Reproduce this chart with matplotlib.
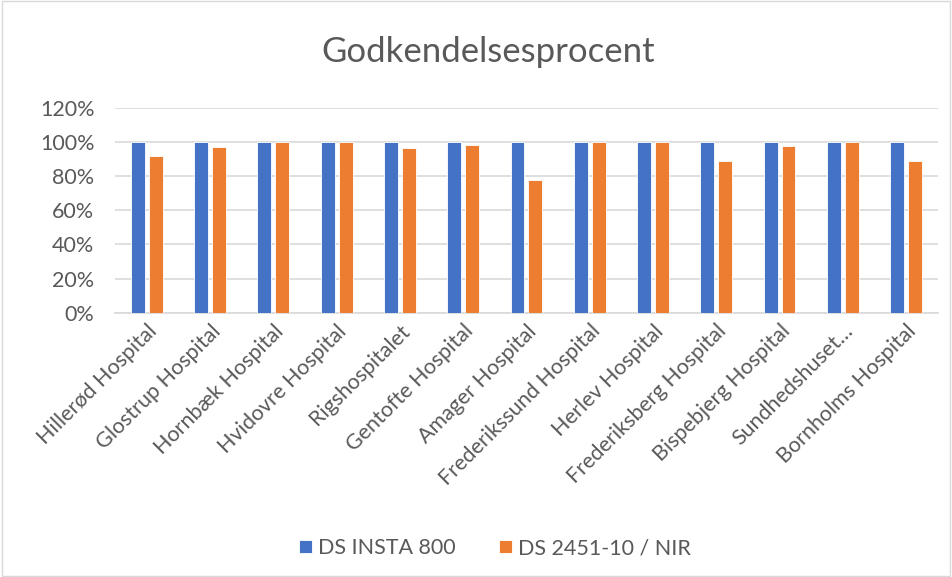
import numpy as np
import matplotlib.pyplot as plt
from matplotlib.ticker import PercentFormatter

hospitals = ['Hillerød Hospital', 'Glostrup Hospital', 'Hornbæk Hospital', 'Hvidovre Hospital',
             'Rigshospitalet', 'Gentofte Hospital', 'Amager Hospital', 'Frederikssund Hospital',
             'Herlev Hospital', 'Frederiksberg Hospital', 'Bispebjerg Hospital',
             'Sundhedshuset…', 'Bornholms Hospital']
insta800 = [100, 100, 100, 100, 100, 100, 100, 100, 100, 100, 100, 100, 100]
ds2451 = [92, 97.1, 100, 100, 96.7, 98.2, 77.5, 100, 100, 88.7, 97.7, 100, 88.7]

plt.rcParams['font.family'] = ['Lato', 'DejaVu Sans']

fig = plt.figure(figsize=(9.52, 5.77), dpi=100)
ax = fig.add_axes([0.121, 0.458, 0.864, 0.355])

x = np.arange(len(hospitals))
w = 0.22
ax.bar(x - 0.142, insta800, w, color='#4472C4', edgecolor='white', linewidth=0.6, label='DS INSTA 800', zorder=3)
ax.bar(x + 0.142, ds2451, w, color='#ED7D31', edgecolor='white', linewidth=0.6, label='DS 2451-10 / NIR', zorder=3)

ax.set_xlim(-0.5, len(hospitals) - 0.5)
ax.set_ylim(0, 120)
ax.set_yticks(range(0, 121, 20))
ax.yaxis.set_major_formatter(PercentFormatter(decimals=0))
ax.grid(axis='y', color='#D9D9D9', linewidth=1.2, zorder=0)
for s in ['top', 'right', 'left']:
    ax.spines[s].set_visible(False)
ax.spines['bottom'].set_color('#D9D9D9')
ax.spines['bottom'].set_linewidth(1.2)
ax.tick_params(length=0, colors='#595959', labelsize=15.5)
ax.tick_params(axis='y', pad=15)
ax.tick_params(axis='x', pad=6)
ax.set_xticks(x)
ax.set_xticklabels(hospitals, rotation=45, ha='right', rotation_mode='anchor')

fig.text(0.513, 0.91, 'Godkendelsesprocent', ha='center', va='center', fontsize=25, color='#595959')
fig.legend(loc='center', bbox_to_anchor=(0.52, 0.05), ncol=2, frameon=False,
           fontsize=15.5, labelcolor='#595959', handlelength=0.6, handleheight=0.6,
           columnspacing=2.0, handletextpad=0.3)

fig.patches.append(plt.Rectangle((0.002, 0.002), 0.996, 0.996, transform=fig.transFigure,
                                 fill=False, edgecolor='#D9D9D9', linewidth=1))
fig.savefig('out.png', dpi=100)
